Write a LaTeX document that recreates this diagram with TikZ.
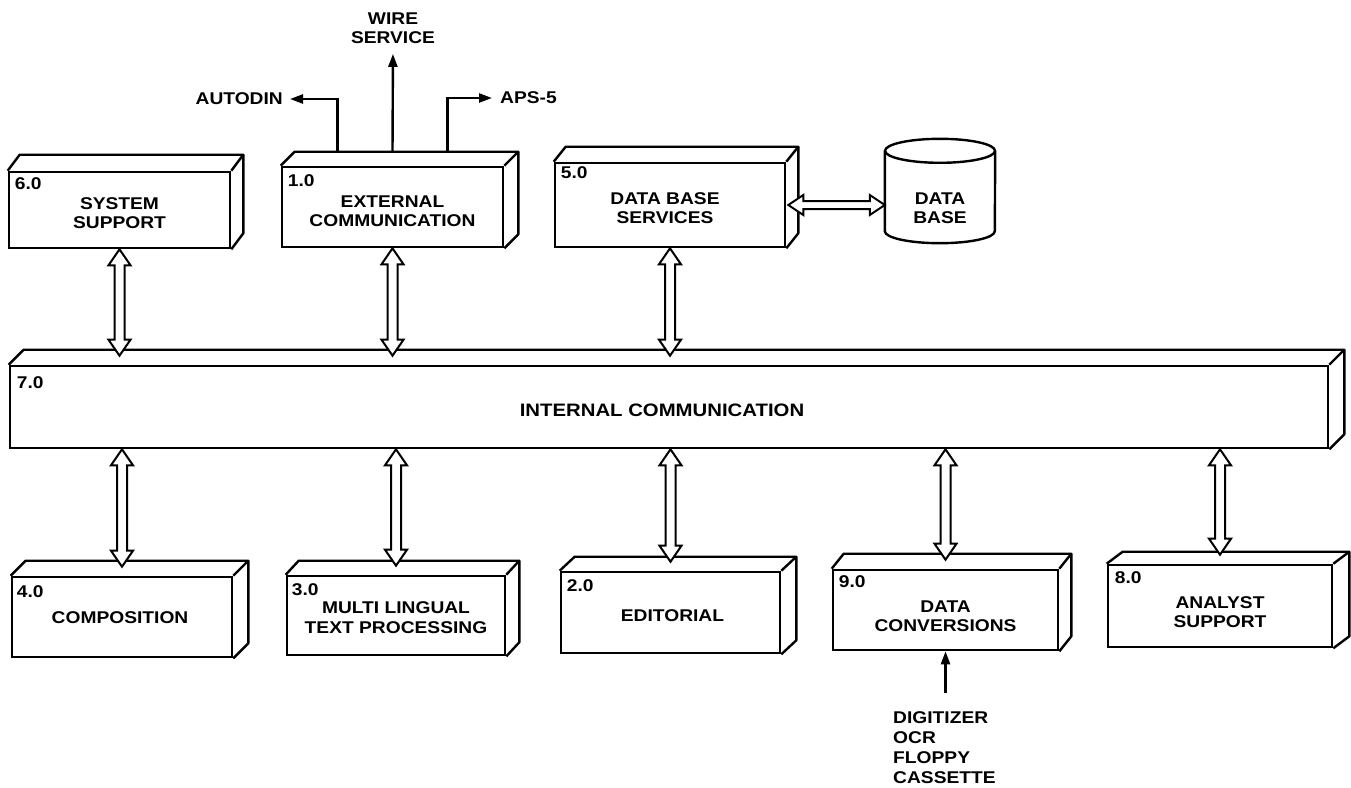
\documentclass[tikz,border=0pt]{standalone}
\usepackage{fontspec}
\setmainfont{Liberation Sans}[FakeStretch=1.13]
\usetikzlibrary{calc,arrows.meta}
\tikzset{
  lbl/.style={font=\fontsize{17}{19.5}\selectfont\bfseries, align=center, inner sep=0pt},
  num/.style={font=\fontsize{17}{19.5}\selectfont\bfseries, inner sep=0pt, anchor=north west},
  face/.style n args={2}{draw, line width=2.6pt, minimum width=#1, minimum height=#2, inner sep=0pt, fill=white},
  edge/.style={line width=2.4pt, line join=round},
  dbl/.style={draw, line width=2pt, fill=white},
  arr/.style={line width=2.4pt, -{Triangle[length=13pt,width=9pt]}},
}
\newcommand\depthbox[3]{%
  \draw[edge] (#1.north west) -- ++(#2,-#3) -- ($(#1.north east)+(#2,-#3)$) -- ($(#1.south east)+(#2,-#3)$) -- (#1.south east);
  \draw[edge] (#1.north east) -- ++(#2,-#3);}
\newcommand\dblv[2]{%
  \draw[dbl] let \p1=#1, \p2=#2 in
  (\x1,\y1) -- (\x1-11pt,\y1-16pt) -- (\x1-5pt,\y1-16pt) -- (\x1-5pt,\y2+16pt) -- (\x1-11pt,\y2+16pt) -- (\x1,\y2)
  -- (\x1+11pt,\y2+16pt) -- (\x1+5pt,\y2+16pt) -- (\x1+5pt,\y1-16pt) -- (\x1+11pt,\y1-16pt) -- cycle;}
\newcommand\dblh[2]{%
  \draw[dbl] let \p1=#1, \p2=#2 in
  (\x1,\y1) -- (\x1+15pt,\y1+10pt) -- (\x1+15pt,\y1+4pt) -- (\x2-15pt,\y1+4pt) -- (\x2-15pt,\y1+10pt) -- (\x2,\y1)
  -- (\x2-15pt,\y1-10pt) -- (\x2-15pt,\y1-4pt) -- (\x1+15pt,\y1-4pt) -- (\x1+15pt,\y1-10pt) -- cycle;}
\begin{document}
\begin{tikzpicture}[x=1pt,y=-1pt]
\useasboundingbox[fill=white] (0,0) rectangle (1351,787);

% top row
\node[face={221}{76}] (ss) at (119.5,210) {};
\depthbox{ss}{12}{16}
\node[num] (ss-n) at ($(ss.north west)+(7,7)$) {6.0};
\node[lbl] (ss-t) at ($(ss.center)+(0,3)$) {SYSTEM\\SUPPORT};

\node[face={221}{80}] (ext) at (392.5,207) {};
\depthbox{ext}{14}{14}
\node[num] (ext-n) at ($(ext.north west)+(7,9)$) {1.0};
\node[lbl] (ext-t) at ($(ext.center)+(0,4)$) {EXTERNAL\\COMMUNICATION};

\node[face={230}{84}] (dbs) at (670,205) {};
\depthbox{dbs}{12}{15}
\node[num] (dbs-n) at ($(dbs.north west)+(7,5)$) {5.0};
\node[lbl] (dbs-t) at ($(dbs.center)+(-5,3)$) {DATA BASE\\SERVICES};

% data base cylinder
\node[minimum width=110pt, minimum height=80pt, inner sep=0pt] (db) at (940,191) {};
\draw[edge, fill=white] (db.north west) -- (db.south west) arc[start angle=180, end angle=360, x radius=55pt, y radius=12pt] -- (db.north east);
\draw[edge] (db.north) ellipse[x radius=55pt, y radius=12pt];
\node[lbl] (db-t) at (940,208) {DATA\\BASE};

% internal communication
\node[face={1318}{82}] (ic) at (669,407) {};
\depthbox{ic}{15}{15}
\node[num] (ic-n) at ($(ic.north west)+(8,12)$) {7.0};
\node[lbl, font=\fontsize{18}{20}\selectfont\bfseries] (ic-t) at ($(ic.center)+(-7,3)$) {INTERNAL COMMUNICATION};

% bottom row
\node[face={220}{80}] (cp) at (122,617) {};
\depthbox{cp}{15}{15}
\node[num] (cp-n) at ($(cp.north west)+(6,10)$) {4.0};
\node[lbl] (cp-t) at ($(cp.center)+(-2,1)$) {COMPOSITION};

\node[face={218}{79}] (mlt) at (396,615.5) {};
\depthbox{mlt}{13}{14}
\node[num] (mlt-n) at ($(mlt.north west)+(6,9)$) {3.0};
\node[lbl] (mlt-t) at ($(mlt.center)+(0,2)$) {MULTI LINGUAL\\TEXT PROCESSING};

\node[face={219}{81}] (ed) at (670.5,612.5) {};
\depthbox{ed}{15}{14}
\node[num] (ed-n) at ($(ed.north west)+(7,9)$) {2.0};
\node[lbl] (ed-t) at ($(ed.center)+(2,3)$) {EDITORIAL};

\node[face={225}{80}] (dc) at (945.5,610) {};
\depthbox{dc}{12}{15}
\node[num] (dc-n) at ($(dc.north west)+(7,7)$) {9.0};
\node[lbl] (dc-t) at ($(dc.center)+(0,6)$) {DATA\\CONVERSIONS};

\node[face={224}{82}] (as) at (1220,606) {};
\depthbox{as}{16}{12}
\node[num] (as-n) at ($(as.north west)+(8,8)$) {8.0};
\node[lbl] (as-t) at ($(as.center)+(0,6)$) {ANALYST\\SUPPORT};

% double arrows
\dblv{(ss.south)}{($(ss.south |- ic.north)+(0,-9)$)}
\dblv{(ext.south)}{($(ext.south |- ic.north)+(0,-9)$)}
\dblv{(dbs.south)}{($(dbs.south |- ic.north)+(0,-9)$)}
\dblv{(cp.north |- ic.south)}{($(cp.north)+(0,-9)$)}
\dblv{(mlt.north |- ic.south)}{($(mlt.north)+(0,-9)$)}
\dblv{(ed.north |- ic.south)}{($(ed.north)+(0,-9)$)}
\dblv{(dc.north |- ic.south)}{($(dc.north)+(0,-9)$)}
\dblv{(as.north |- ic.south)}{($(as.north)+(0,-9)$)}
\dblh{($(dbs.east)+(2,0)$)}{($(db.west)+(0,14)$)}

% external links
\node[lbl, anchor=east] (autodin) at (283,99) {AUTODIN};
\node[lbl] (wire) at (393,28) {WIRE\\SERVICE};
\node[lbl, anchor=west] (aps) at (500,98) {APS-5};
\draw[arr, shorten >=7pt] ($(ext.north)+(-55,-14)$) |- (autodin.east);
\draw[arr, shorten >=10pt] ($(ext.north)+(0,-14)$) -- (wire.south);
\draw[arr, shorten >=8pt] ($(ext.north)+(55,-14)$) |- (aps.west);

% data conversion inputs
\node[lbl, align=left, anchor=north west, font=\fontsize{17}{20.3}\selectfont\bfseries] (dig) at (893,711) {DIGITIZER\\OCR\\FLOPPY\\CASSETTE};
\draw[arr, shorten <=18pt] (dig.north -| dc.south) -- (dc.south);
\end{tikzpicture}
\end{document}
